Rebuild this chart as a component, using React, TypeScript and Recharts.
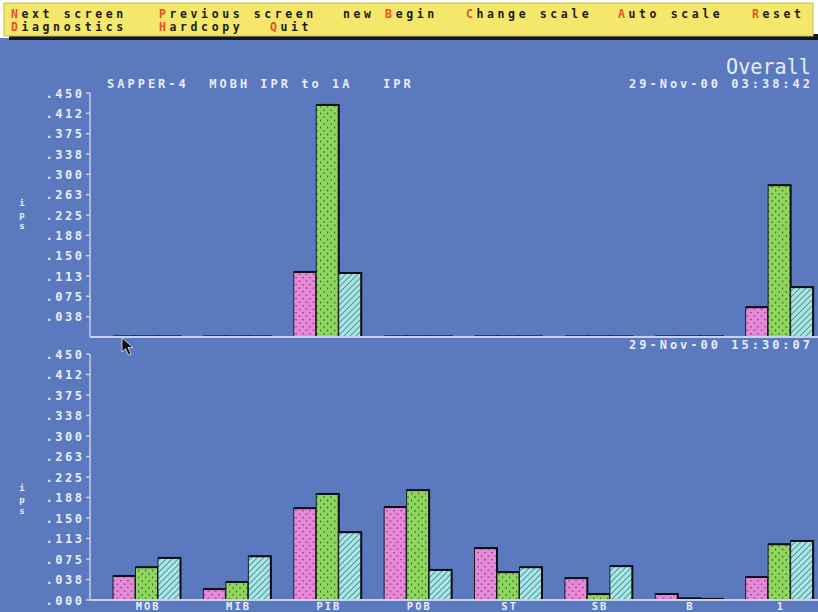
import React from 'react';
import { BarChart, Bar, XAxis, YAxis } from 'recharts';

const categories = ['MOB', 'MIB', 'PIB', 'POB', 'ST', 'SB', 'B', '1'];
// upper panel (29-Nov-00 03:38:42)
const upperPink = [0.001, 0.001, 0.12, 0.001, 0.001, 0.001, 0.001, 0.055];
const upperGreen = [0.001, 0.001, 0.428, 0.001, 0.001, 0.001, 0.001, 0.28];
const upperCyan = [0.001, 0.001, 0.118, 0.001, 0.001, 0.001, 0.001, 0.092];
// lower panel (29-Nov-00 15:30:07)
const lowerPink = [0.044, 0.02, 0.168, 0.17, 0.095, 0.04, 0.011, 0.042];
const lowerGreen = [0.06, 0.033, 0.194, 0.201, 0.051, 0.011, 0.003, 0.102];
const lowerCyan = [0.077, 0.08, 0.124, 0.055, 0.06, 0.062, 0.002, 0.108];

const upperTicks = [0.0375, 0.075, 0.1125, 0.15, 0.1875, 0.225, 0.2625, 0.3, 0.3375, 0.375, 0.4125, 0.45];
const upperTickLabels = ['.038', '.075', '.113', '.150', '.188', '.225', '.263', '.300', '.338', '.375', '.412', '.450'];
const lowerTicks = [0, 0.0375, 0.075, 0.1125, 0.15, 0.1875, 0.225, 0.2625, 0.3, 0.3375, 0.375, 0.4125, 0.45];
const lowerTickLabels = ['.000', '.038', '.075', '.113', '.150', '.188', '.225', '.263', '.300', '.338', '.375', '.412', '.450'];

const menuRow1 = [
  { text: 'Next screen', key: 0, x: 11 },
  { text: 'Previous screen', key: 0, x: 159 },
  { text: 'new Begin', key: 4, x: 343 },
  { text: 'Change scale', key: 0, x: 466 },
  { text: 'Auto scale', key: 0, x: 618 },
  { text: 'Reset', key: 0, x: 752 },
];
const menuRow2 = [
  { text: 'Diagnostics', key: 0, x: 11 },
  { text: 'Hardcopy', key: 0, x: 159 },
  { text: 'Quit', key: 0, x: 270 },
];

const titleText = 'SAPPER-4  MOBH IPR to 1A   IPR';
const upperDate = '29-Nov-00 03:38:42';
const lowerDate = '29-Nov-00 15:30:07';
const panelTitle = 'Overall';
const unitLabel = ['i', 'p', 's'];

const upperData = categories.map((c, i) => ({ cat: c, a: upperPink[i], b: upperGreen[i], c: upperCyan[i] }));
const lowerData = categories.map((c, i) => ({ cat: c, a: lowerPink[i], b: lowerGreen[i], c: lowerCyan[i] }));

const BG = '#5a79be';
const AXIS = '#c8d1ee';
const TXT = '#e9edf8';
const MONO = '"DejaVu Sans Mono", monospace';

const PatternBar = (props: any) => {
  const { x, y, width, height, fill } = props;
  if (x == null || width == null) return null;
  const h = Math.max(height || 0, 0);
  return (
    <g>
      <rect x={x} y={y} width={width} height={h} fill={fill} />
      <rect x={x} y={y} width={width} height={h} fill="none" stroke="#1c1c28" strokeWidth={1} />
      <line x1={x} y1={y} x2={x + width} y2={y} stroke="#0e0e14" strokeWidth={2} />
      <line x1={x + width} y1={y - 1} x2={x + width} y2={y + h} stroke="#0e0e14" strokeWidth={2} />
    </g>
  );
};

const makeYTick = (ticks: number[], labels: string[]) => (props: any) => {
  const { x, y, payload } = props;
  const idx = ticks.findIndex((t) => Math.abs(t - payload.value) < 1e-6);
  const label = idx >= 0 ? labels[idx] : '';
  return (
    <text x={x + 2.5} y={y} dy={4.5} textAnchor="end" fill={TXT} fontSize={12} fontWeight="bold" fontFamily={MONO} letterSpacing={2.5}>
      {label}
    </text>
  );
};

const XTick = (props: any) => {
  const { x, y, payload } = props;
  return (
    <text x={x + 1} y={y + 6.5} textAnchor="middle" fill={TXT} fontSize={10.5} fontWeight="bold" fontFamily={MONO} letterSpacing={2}>
      {payload.value}
    </text>
  );
};

const Patterns = () => (
  <svg width={0} height={0} style={{ position: 'absolute' }}>
    <defs>
      <pattern id="pinkPat" width={7} height={7} patternUnits="userSpaceOnUse">
        <rect width={7} height={7} fill="#e48ad6" />
        <rect x={1} y={1} width={2} height={1.3} fill="#a94a98" />
        <rect x={4.5} y={4.5} width={2} height={1.3} fill="#a94a98" />
      </pattern>
      <pattern id="greenPat" width={7} height={7} patternUnits="userSpaceOnUse">
        <rect width={7} height={7} fill="#8fd65e" />
        <rect x={1.5} y={1} width={1.2} height={2} fill="#3b7a2e" />
        <rect x={5} y={4.5} width={1.2} height={2} fill="#3b7a2e" />
      </pattern>
      <pattern id="cyanPat" width={6} height={6} patternUnits="userSpaceOnUse">
        <rect width={6} height={6} fill="#aee7e2" />
        <path d="M-1,7 L7,-1 M-1,1 L1,-1 M5,7 L7,5" stroke="#4f9aa6" strokeWidth={1.1} />
      </pattern>
    </defs>
  </svg>
);

const MenuText = ({ item, y }: { item: { text: string; key: number; x: number }; y: number }) => {
  const before = item.text.slice(0, item.key);
  const k = item.text.charAt(item.key);
  const after = item.text.slice(item.key + 1);
  return (
    <text x={item.x} y={y} fontFamily={MONO} fontWeight="bold" fontSize={11.5} letterSpacing={3.6} fill="#1a1a1a" style={{ whiteSpace: 'pre' }}>
      {before}
      <tspan fill="#e8502a">{k}</tspan>
      {after}
    </text>
  );
};

export default function App() {
  return (
    <div style={{ position: 'absolute', left: 0, top: 0, width: 818, height: 612, overflow: 'hidden', background: BG }}>
      <Patterns />
      {/* menu bar */}
      <svg width={818} height={42} style={{ position: 'absolute', left: 0, top: 0 }}>
        <rect x={0} y={0} width={818} height={42} fill="#ffffff" />
        <rect x={0} y={38} width={818} height={4} fill={BG} />
        <rect x={9} y={34} width={809} height={6} fill="#15151c" />
        <rect x={4} y={3} width={809} height={33} fill="#f4e76c" stroke="#c8bd50" strokeWidth={1} />
        {menuRow1.map((m) => (
          <MenuText key={m.text} item={m} y={17.5} />
        ))}
        {menuRow2.map((m) => (
          <MenuText key={m.text} item={m} y={31} />
        ))}
      </svg>

      {/* upper chart */}
      <div style={{ position: 'absolute', left: 0, top: 80 }}>
        <BarChart width={825} height={262} data={upperData} margin={{ top: 13, right: 0, bottom: 0, left: 0 }} barGap={0} barSize={22.5}>
          <XAxis dataKey="cat" height={5} tick={false} tickLine={false} axisLine={{ stroke: AXIS, strokeWidth: 2 }} padding={{ left: 12, right: 0 }} />
          <YAxis
            width={90}
            domain={[0, 0.45]}
            ticks={upperTicks}
            interval={0}
            tickSize={4}
            tickMargin={4}
            axisLine={{ stroke: AXIS, strokeWidth: 1.5 }}
            tickLine={{ stroke: AXIS, strokeWidth: 1.5 }}
            tick={makeYTick(upperTicks, upperTickLabels)}
          />
          <Bar dataKey="a" fill="url(#pinkPat)" shape={(p: any) => <PatternBar {...p} />} isAnimationActive={false} />
          <Bar dataKey="b" fill="url(#greenPat)" shape={(p: any) => <PatternBar {...p} />} isAnimationActive={false} />
          <Bar dataKey="c" fill="url(#cyanPat)" shape={(p: any) => <PatternBar {...p} />} isAnimationActive={false} />
        </BarChart>
      </div>

      {/* lower chart */}
      <div style={{ position: 'absolute', left: 0, top: 341 }}>
        <BarChart width={825} height={271} data={lowerData} margin={{ top: 13, right: 0, bottom: 0, left: 0 }} barGap={0} barSize={22.5}>
          <XAxis
            dataKey="cat"
            height={12}
            tickSize={0}
            tickMargin={3}
            interval={0}
            tick={<XTick />}
            axisLine={{ stroke: AXIS, strokeWidth: 2 }}
            padding={{ left: 12, right: 0 }}
          />
          <YAxis
            width={90}
            domain={[0, 0.45]}
            ticks={lowerTicks}
            interval={0}
            tickSize={4}
            tickMargin={4}
            axisLine={{ stroke: AXIS, strokeWidth: 1.5 }}
            tickLine={{ stroke: AXIS, strokeWidth: 1.5 }}
            tick={makeYTick(lowerTicks, lowerTickLabels)}
          />
          <Bar dataKey="a" fill="url(#pinkPat)" shape={(p: any) => <PatternBar {...p} />} isAnimationActive={false} />
          <Bar dataKey="b" fill="url(#greenPat)" shape={(p: any) => <PatternBar {...p} />} isAnimationActive={false} />
          <Bar dataKey="c" fill="url(#cyanPat)" shape={(p: any) => <PatternBar {...p} />} isAnimationActive={false} />
        </BarChart>
      </div>

      {/* overlay texts */}
      <svg width={818} height={612} style={{ position: 'absolute', left: 0, top: 0, pointerEvents: 'none' }}>
        <text x={726} y={74} fill={TXT} fontFamily={MONO} fontSize={22} textLength={85} lengthAdjust="spacingAndGlyphs">
          {panelTitle}
        </text>
        <text x={107} y={88} fill={TXT} fontFamily={MONO} fontWeight="bold" fontSize={12} letterSpacing={3} style={{ whiteSpace: 'pre' }}>
          {titleText}
        </text>
        <text x={629} y={88} fill={TXT} fontFamily={MONO} fontWeight="bold" fontSize={12} letterSpacing={3} style={{ whiteSpace: 'pre' }}>
          {upperDate}
        </text>
        <text x={629} y={349} fill={TXT} fontFamily={MONO} fontWeight="bold" fontSize={12} letterSpacing={3} style={{ whiteSpace: 'pre' }}>
          {lowerDate}
        </text>
        {unitLabel.map((ch, i) => (
          <text key={'u' + i} x={22} y={206 + i * 11.5} textAnchor="middle" fill={TXT} fontFamily={MONO} fontWeight="bold" fontSize={9}>
            {ch}
          </text>
        ))}
        {unitLabel.map((ch, i) => (
          <text key={'l' + i} x={22} y={491 + i * 11.5} textAnchor="middle" fill={TXT} fontFamily={MONO} fontWeight="bold" fontSize={9}>
            {ch}
          </text>
        ))}
        {/* mouse pointer */}
        <path d="M122,338 L122,352 L125.5,348.5 L128.5,355 L131,354 L128,347.5 L133,347.5 Z" fill="#111" stroke="#dfe3ef" strokeWidth={0.8} />
      </svg>
    </div>
  );
}
